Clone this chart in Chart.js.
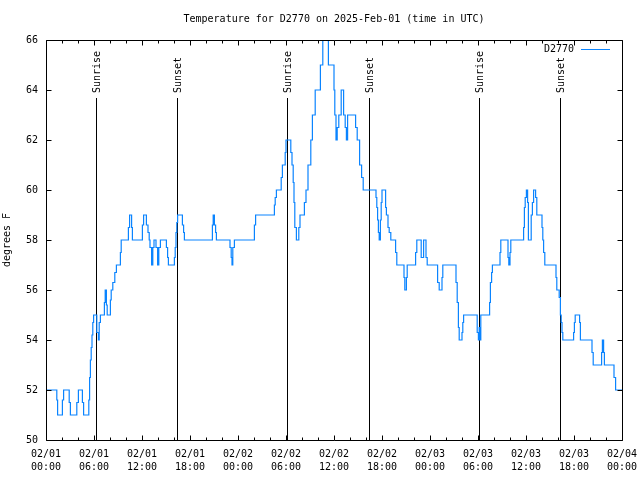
<!DOCTYPE html>
<html lang="en">
<head>
  <meta charset="UTF-8" />
  <title>Temperature for D2770</title>
  <script src="https://cdn.jsdelivr.net/npm/chart.js"></script>
  <style>
    html, body { margin: 0; padding: 0; background: #fff; }
    canvas { display: block; }
  </style>
</head>
<body>
  <canvas id="tempChart" width="640" height="480"></canvas>
  <script>
    // hours since 02/01 00:00 UTC, and the reading that starts at that hour
    const hours = [
      0, 1.35, 1.45, 2.05, 2.2, 2.9, 3.05, 3.85, 4.05, 4.55, 4.7, 5.35, 5.45, 5.55, 5.65, 5.75, 5.85, 5.95,
      6.35, 6.55, 6.65, 6.8, 7.3, 7.4, 7.55, 7.65, 8.05, 8.15, 8.35, 8.6, 8.8, 9.3, 9.4, 10.3, 10.45, 10.7, 10.8,
      12.05, 12.2, 12.55, 12.75, 12.9, 13.0, 13.2, 13.35, 13.5, 13.75, 13.95, 14.1, 14.3, 15.05, 15.2, 15.3,
      16.05, 16.15, 16.25, 16.35, 16.45, 17.05, 17.2, 17.3, 20.8, 20.9, 21.05, 21.2, 21.3,
      23.0, 23.15, 23.25, 23.35, 23.55, 26.05, 26.2, 28.55, 28.65, 28.8, 29.4, 29.55, 29.9, 30.0,
      30.6, 30.75, 30.9, 31.0, 31.1, 31.3, 31.6, 31.75, 32.3, 32.5, 32.75, 33.1, 33.3, 33.65, 34.3, 34.6, 35.3,
      36.0, 36.1, 36.25, 36.4, 36.6, 36.9, 37.2, 37.4, 37.55, 37.7, 38.7, 38.9, 39.2, 39.45, 39.65,
      41.25, 41.35, 41.45, 41.55, 41.65, 41.8, 41.9, 42.0, 42.45, 42.55, 42.75, 42.9, 43.1, 43.7, 43.85,
      44.75, 44.85, 45.05, 45.15, 46.2, 46.35, 46.9, 47.2, 47.5, 47.65, 48.95, 49.15, 49.5, 49.6,
      51.25, 51.4, 51.55, 51.65, 52.0, 52.1, 52.2, 53.9, 54.05, 54.15, 54.25, 54.35, 55.45, 55.55, 55.7, 55.8,
      56.75, 56.85, 57.75, 57.85, 58.0, 58.1, 59.7, 59.8, 59.9, 60.05, 60.2, 60.3, 60.65, 60.8, 60.95, 61.2, 61.35,
      62.0, 62.1, 62.2, 62.35, 63.75, 63.85, 64.15, 64.3, 64.4, 64.5, 64.6, 65.95, 66.05, 66.15, 66.7, 66.8,
      68.25, 68.4, 69.45, 69.55, 69.7, 69.8, 71.0, 71.2, 72.0
    ];
    const temps = [
      52, 51.6, 51, 51.6, 52, 51.5, 51, 51.5, 52, 51.5, 51, 51.6, 52.5, 53.2, 53.7, 54.2, 54.7, 55,
      54.3, 54, 54.7, 55, 55.5, 56, 55.4, 55, 55.6, 56, 56.3, 56.7, 57, 57.5, 58, 58.5, 59, 58.5, 58,
      58.6, 59, 58.6, 58.3, 58, 57.7, 57, 57.7, 58, 57.7, 57, 57.7, 58, 57.7, 57.3, 57,
      57.3, 57.7, 58.3, 58.7, 59, 58.6, 58.3, 58, 58.6, 59, 58.6, 58.3, 58,
      57.7, 57.3, 57, 57.7, 58, 58.6, 59, 59.4, 59.7, 60, 60.5, 61, 61.5, 62,
      61.5, 61, 60.3, 59.5, 58.5, 58, 58.5, 59, 59.5, 60, 61, 62, 63, 64, 65, 66, 65,
      64, 63, 62, 62.5, 63, 64, 63, 62.5, 62, 63, 62.5, 62, 61, 60.5, 60,
      59.7, 59.3, 58.8, 58.3, 58, 58.8, 59.5, 60, 59.3, 59, 58.5, 58.3, 58, 57.5, 57,
      56.5, 56, 56.5, 57, 57.5, 58, 57.3, 58, 57.3, 57, 56.3, 56, 56.5, 57,
      56.3, 55.5, 54.5, 54, 54.3, 54.7, 55, 54.3, 54, 54.5, 54, 55, 55.5, 56.3, 56.7, 57,
      57.5, 58, 57.3, 57, 57.5, 58, 58.5, 59.3, 59.7, 60, 59.5, 58, 59, 59.5, 60, 59.7, 59,
      58.5, 58, 57.5, 57, 56.5, 56, 55.7, 55, 54.7, 54.3, 54, 54.3, 54.7, 55, 54.7, 54,
      53.5, 53, 53.5, 54, 53.5, 53, 52.5, 52, 52
    ];
    const sunTimes = [6.25, 16.42, 30.08, 40.42, 54.17, 64.29];
    const sunLabels = ['Sunrise', 'Sunset', 'Sunrise', 'Sunset', 'Sunrise', 'Sunset'];
    const dayLabels = ['02/01', '02/02', '02/03', '02/04'];
    const yTicks = [50, 52, 54, 56, 58, 60, 62, 64, 66];

    const FONT = '"DejaVu Sans Mono", "Liberation Mono", monospace';

    const overlay = {
      id: 'overlay',
      beforeDraw(chart) {
        const ctx = chart.ctx;
        ctx.save();
        ctx.fillStyle = '#fff';
        ctx.fillRect(0, 0, chart.width, chart.height);
        ctx.restore();
      },
      beforeDatasetsDraw(chart) {
        const { ctx, chartArea: a, scales: { x } } = chart;
        ctx.save();
        ctx.strokeStyle = '#000';
        ctx.lineWidth = 1;
        ctx.fillStyle = '#000';
        ctx.font = '10px ' + FONT;
        sunTimes.forEach((t, i) => {
          const px = Math.round(x.getPixelForValue(t)) + 0.5;
          ctx.beginPath();
          ctx.moveTo(px, a.top + 58);
          ctx.lineTo(px, a.bottom);
          ctx.stroke();
          ctx.save();
          ctx.translate(px + 1, a.top + 53);
          ctx.rotate(-Math.PI / 2);
          ctx.textAlign = 'left';
          ctx.textBaseline = 'middle';
          ctx.fillText(sunLabels[i], 0, 0);
          ctx.restore();
        });
        ctx.restore();
      },
      afterDatasetsDraw(chart) {
        const { ctx, chartArea: a, scales: { x, y } } = chart;
        ctx.save();
        ctx.strokeStyle = '#000';
        ctx.lineWidth = 1;
        const l = Math.round(a.left) + 0.5, r = Math.round(a.right) + 0.5;
        const t = Math.round(a.top) + 0.5, b = Math.round(a.bottom) + 0.5;
        ctx.beginPath();
        ctx.rect(l, t, r - l, b - t);
        // x ticks, inward, mirrored on top
        for (let h = 0; h <= 72; h += 2) {
          const px = Math.round(x.getPixelForValue(h)) + 0.5;
          const len = h % 6 === 0 ? 5 : 3;
          ctx.moveTo(px, b); ctx.lineTo(px, b - len);
          ctx.moveTo(px, t); ctx.lineTo(px, t + len);
        }
        // y ticks, inward, mirrored on right
        yTicks.forEach(v => {
          const py = Math.round(y.getPixelForValue(v)) + 0.5;
          ctx.moveTo(l, py); ctx.lineTo(l + 5, py);
          ctx.moveTo(r, py); ctx.lineTo(r - 5, py);
        });
        ctx.stroke();

        // key
        const ds = chart.data.datasets[0];
        ctx.fillStyle = '#000';
        ctx.font = '10px ' + FONT;
        ctx.textAlign = 'right';
        ctx.textBaseline = 'middle';
        ctx.fillText(ds.label, a.right - 48, a.top + 9);
        ctx.strokeStyle = ds.borderColor;
        ctx.beginPath();
        ctx.moveTo(a.right - 41, a.top + 9.5);
        ctx.lineTo(a.right - 12, a.top + 9.5);
        ctx.stroke();
        ctx.restore();
      }
    };

    new Chart(document.getElementById('tempChart').getContext('2d'), {
      type: 'line',
      data: {
        datasets: [{
          label: 'D2770',
          data: hours.map((h, i) => ({ x: h, y: temps[i] })),
          stepped: true,
          borderColor: '#0a84ff',
          borderWidth: 1.2,
          pointRadius: 0,
          fill: false
        }]
      },
      options: {
        responsive: false,
        animation: false,
        devicePixelRatio: 1,
        layout: { padding: { top: 0, right: 18, bottom: 0, left: 0 } },
        plugins: {
          legend: { display: false },
          tooltip: { enabled: false },
          title: {
            display: true,
            fullSize: false,
            text: 'Temperature for D2770 on 2025-Feb-01 (time in UTC)',
            color: '#000',
            font: { family: FONT, size: 10, weight: 'normal', lineHeight: 1.2 },
            padding: { top: 13, bottom: 15 }
          }
        },
        scales: {
          x: {
            type: 'linear',
            min: 0,
            max: 72,
            offset: false,
            grid: { display: false, drawTicks: false },
            border: { display: false },
            afterFit: s => { s.height = 40; s.paddingLeft = 0; s.paddingRight = 0; },
            ticks: {
              stepSize: 6,
              autoSkip: false,
              maxRotation: 0,
              padding: 8,
              color: '#000',
              font: { family: FONT, size: 10, lineHeight: 1.3 },
              callback: v => {
                const d = dayLabels[Math.floor(v / 24)];
                const hh = String(v % 24).padStart(2, '0');
                return [d, hh + ':00'];
              }
            }
          },
          y: {
            min: 50,
            max: 66,
            grid: { display: false, drawTicks: false },
            border: { display: false },
            afterFit: s => { s.width = 46; s.paddingTop = 0; s.paddingBottom = 0; },
            title: {
              display: true,
              text: 'degrees F',
              color: '#000',
              font: { family: FONT, size: 10, lineHeight: 1.2 },
              padding: { top: 1, bottom: 0 }
            },
            ticks: {
              stepSize: 2,
              padding: 8,
              color: '#000',
              font: { family: FONT, size: 10 }
            }
          }
        }
      },
      plugins: [overlay]
    });
  </script>
</body>
</html>
